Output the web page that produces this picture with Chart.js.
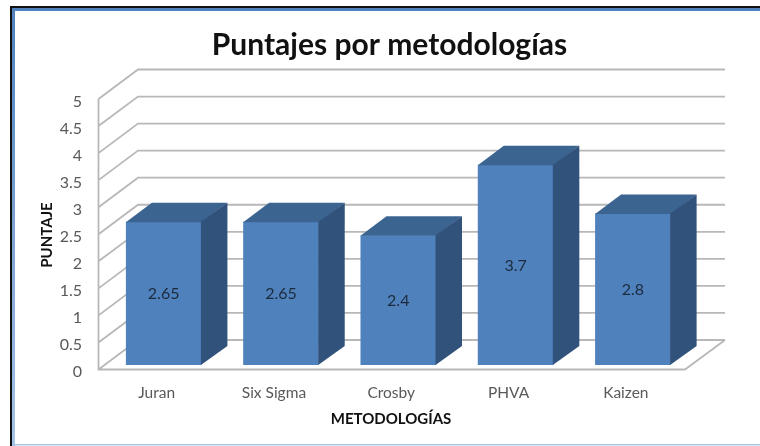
<!DOCTYPE html>
<html>
<head>
<meta charset="utf-8">
<title>Puntajes por metodologías</title>
<script src="https://cdn.jsdelivr.net/npm/chart.js@4"></script>
<style>
html, body { margin: 0; padding: 0; background: #fff; }
canvas { display: block; filter: blur(0.7px); }
</style>
</head>
<body>
<canvas id="myBarChart" width="760" height="446"></canvas>
<script>
var titleText = 'Puntajes por metodologías';
var xTitle = 'METODOLOGÍAS';
var yTitle = 'PUNTAJE';
var categories = ['Juran', 'Six Sigma', 'Crosby', 'PHVA', 'Kaizen'];
var scores = [2.65, 2.65, 2.4, 3.7, 2.8];
var yMax = 5;
var yStep = 0.5;

var fontName = 'Lato, Carlito, "Open Sans", sans-serif';

// frame of the picture (black line + blue band, no right side)
var framePlugin = {
    id: 'frame',
    beforeDraw: function(chart) {
        var ctx = chart.ctx;
        ctx.save();
        ctx.fillStyle = '#111';
        ctx.fillRect(10, 6, 750, 2);
        ctx.fillRect(10, 6, 2, 440);
        var band = ctx.createLinearGradient(0, 8, 0, 446);
        band.addColorStop(0, '#4f81bd');
        band.addColorStop(1, '#a6c4e8');
        ctx.fillStyle = band;
        ctx.fillRect(12, 8, 3, 438);
        ctx.fillStyle = '#4f81bd';
        ctx.fillRect(12, 8, 748, 3);
        ctx.fillStyle = '#a9c5e6';
        ctx.fillRect(15, 444, 745, 1.5);
        ctx.restore();
    }
};

// 3D walls and floor, following the y scale
var wallsPlugin = {
    id: 'walls',
    beforeDatasetsDraw: function(chart) {
        var ctx = chart.ctx;
        var y = chart.scales.y;
        var frontX = 98.5, backX = 138, rightX = 725, floorRight = 685;
        var frontDy = 4.5, backDy = -25;
        ctx.save();
        ctx.strokeStyle = '#b8b8b8';
        ctx.lineWidth = 1.8;
        ctx.beginPath();
        y.ticks.forEach(function(t) {
            var py = y.getPixelForValue(t.value);
            ctx.moveTo(frontX, py + frontDy);
            ctx.lineTo(backX, py + backDy);
            ctx.lineTo(rightX, py + backDy);
        });
        var base = y.getPixelForValue(0);
        ctx.moveTo(frontX, y.getPixelForValue(yMax) + frontDy);
        ctx.lineTo(frontX, base + frontDy);
        ctx.lineTo(floorRight, base + frontDy);
        ctx.lineTo(rightX, base + backDy);
        ctx.stroke();
        ctx.restore();
    },
    // top and side faces of every bar
    afterDatasetsDraw: function(chart) {
        var ctx = chart.ctx;
        var dx = 26, dy = -19;
        ctx.save();
        chart.getDatasetMeta(0).data.forEach(function(bar) {
            var l = bar.x - bar.width / 2, r = bar.x + bar.width / 2;
            ctx.fillStyle = '#3c6491';
            ctx.beginPath();
            ctx.moveTo(l, bar.y + 0.5);
            ctx.lineTo(l + dx, bar.y + dy);
            ctx.lineTo(r + dx, bar.y + dy);
            ctx.lineTo(r, bar.y + 0.5);
            ctx.closePath();
            ctx.fill();
            ctx.fillStyle = '#30527b';
            ctx.beginPath();
            ctx.moveTo(r - 0.5, bar.y);
            ctx.lineTo(r + dx, bar.y + dy);
            ctx.lineTo(r + dx, bar.base + dy);
            ctx.lineTo(r - 0.5, bar.base);
            ctx.closePath();
            ctx.fill();
        });
        ctx.restore();
    }
};

// value labels in the middle of the bars, axis titles
var labelsPlugin = {
    id: 'labels',
    afterDraw: function(chart) {
        var ctx = chart.ctx;
        ctx.save();
        ctx.textAlign = 'center';
        ctx.textBaseline = 'middle';
        ctx.fillStyle = '#1c2a3c';
        ctx.font = '16px ' + fontName;
        chart.getDatasetMeta(0).data.forEach(function(bar, i) {
            ctx.fillText(String(scores[i]), bar.x, (bar.y + bar.base) / 2 + 1);
        });
        ctx.fillStyle = '#111';
        ctx.font = 'bold 15px ' + fontName;
        ctx.fillText(xTitle, 391, 419);
        ctx.translate(47, 235);
        ctx.rotate(-Math.PI / 2);
        ctx.fillText(yTitle, 0, 0);
        ctx.restore();
    }
};

var ctx = document.getElementById('myBarChart').getContext('2d');
var myChart = new Chart(ctx, {
    type: 'bar',
    data: {
        labels: categories,
        datasets: [{
            label: 'Puntaje',
            data: scores,
            backgroundColor: '#4f81bd',
            borderWidth: 0,
            categoryPercentage: 1,
            barPercentage: 0.644
        }]
    },
    options: {
        responsive: false,
        animation: false,
        layout: {
            padding: { left: 19, right: 0, top: 0, bottom: 40 }
        },
        plugins: {
            legend: { display: false },
            tooltip: { enabled: false },
            title: {
                display: true,
                text: titleText,
                color: '#111',
                font: { family: fontName, size: 30, weight: 'bold' },
                padding: { top: 27, bottom: 31.5 }
            }
        },
        scales: {
            x: {
                grid: { display: false, drawTicks: false },
                border: { display: false },
                ticks: {
                    color: '#595959',
                    font: { family: fontName, size: 15.5 },
                    padding: 19,
                    labelOffset: -7,
                    maxRotation: 0,
                    autoSkip: false
                },
                afterFit: function(scale) { scale.height = 41; }
            },
            y: {
                min: 0,
                max: yMax,
                grid: { display: false, drawTicks: false },
                border: { display: false },
                ticks: {
                    stepSize: yStep,
                    color: '#595959',
                    font: { family: fontName, size: 16 },
                    padding: 23,
                    labelOffset: 7,
                    callback: function(value) { return String(value); }
                },
                afterFit: function(scale) { scale.width = 86; }
            },
            // empty axis, only keeps the plot clear of the right margin
            yRight: {
                position: 'right',
                grid: { display: false, drawTicks: false },
                border: { display: false },
                ticks: { display: false },
                afterFit: function(scale) { scale.width = 68.5; }
            }
        }
    },
    plugins: [framePlugin, wallsPlugin, labelsPlugin]
});
</script>
</body>
</html>
